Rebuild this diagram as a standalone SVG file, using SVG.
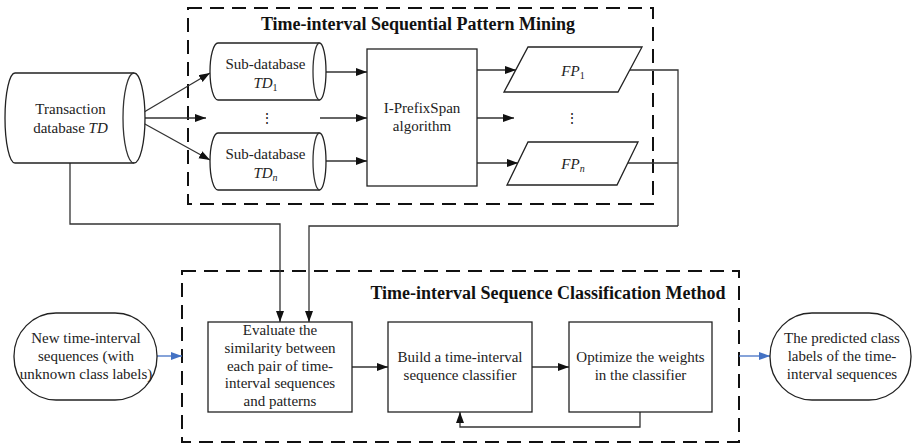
<svg xmlns="http://www.w3.org/2000/svg" width="913" height="445" viewBox="0 0 913 445">
<defs>
<marker id="ah" markerUnits="userSpaceOnUse" markerWidth="12" markerHeight="10" refX="11" refY="4" orient="auto">
<path d="M0,0 L11,4 L0,8 Z" fill="#111"/>
</marker>
<marker id="ahb" markerUnits="userSpaceOnUse" markerWidth="12" markerHeight="10" refX="11" refY="4" orient="auto">
<path d="M0,0 L11,4 L0,8 Z" fill="#4472C4"/>
</marker>
<style>
.shape{fill:#fff;stroke:#222;stroke-width:1.3}
.ln{fill:none;stroke:#333;stroke-width:1.3}
.arr{fill:none;stroke:#333;stroke-width:1.3;marker-end:url(#ah)}
.blue{fill:none;stroke:#4472C4;stroke-width:1.3;marker-end:url(#ahb)}
.dash{fill:none;stroke:#111;stroke-width:2;stroke-dasharray:14 8}
text{font-family:"Liberation Serif","Times New Roman",serif;font-size:15px;fill:#222;text-anchor:middle}
.title{font-size:18px;font-weight:bold;fill:#111}
.it{font-style:italic}
.dots{font-family:"DejaVu Serif","Liberation Serif",serif;font-size:14px}
</style>
</defs>

<g id="frame-mining">
<rect class="dash" x="188" y="8" width="465" height="196"/>
<text class="title" x="418" y="30">Time-interval Sequential Pattern Mining</text>
</g>
<g id="frame-classification">
<rect class="dash" x="182" y="271" width="557" height="171"/>
<text class="title" x="548" y="299">Time-interval Sequence Classification Method</text>
</g>

<g id="connectors">
<line class="arr" x1="134" y1="118" x2="210" y2="73"/>
<line class="arr" x1="134" y1="118" x2="206" y2="118"/>
<line class="arr" x1="134" y1="118" x2="210" y2="160"/>
<line class="arr" x1="319" y1="72" x2="367" y2="72"/>
<line class="arr" x1="320" y1="118" x2="367" y2="118"/>
<line class="arr" x1="319" y1="161" x2="367" y2="161"/>
<line class="arr" x1="477" y1="70" x2="516" y2="70"/>
<line class="arr" x1="477" y1="118" x2="514" y2="118"/>
<line class="arr" x1="477" y1="163" x2="518" y2="163"/>
<polyline class="ln" points="630,70 678,70 678,226"/>
<polyline class="ln" points="628,163 678,163"/>
<polyline class="arr" points="678,226 309,226 309,322"/>
<polyline class="arr" points="70,163 70,224 280,224 280,322"/>
<line class="arr" x1="352" y1="367" x2="388" y2="367"/>
<line class="arr" x1="532" y1="367" x2="569" y2="367"/>
<polyline class="arr" points="640,412 640,427 460,427 460,412"/>
<line class="blue" x1="157" y1="356" x2="182" y2="356"/>
<line class="blue" x1="739" y1="356" x2="770" y2="356"/>
</g>

<g id="transaction-db">
<path class="shape" d="M15,73 H134 A11,45 0 0 1 134,163 H15 A10,45 0 0 1 15,73 Z"/>
<path class="ln" d="M134,73 A11,45 0 0 0 134,163"/>
<text x="70.5" y="113.5">Transaction</text>
<text x="70.5" y="132.5">database <tspan class="it">TD</tspan></text>
</g>

<g id="sub-db-1">
<path class="shape" d="M218,43 H319.5 A6.5,28.5 0 0 1 319.5,100 H218 A8,28.5 0 0 1 218,43 Z"/>
<path class="ln" d="M319.5,43 A6.5,28.5 0 0 0 319.5,100"/>
<text x="265.5" y="68.5">Sub-database</text>
<text x="265.5" y="87.5" class="it">TD<tspan font-style="normal" font-size="10" dy="3">1</tspan></text>
</g>
<g id="sub-db-dots">
<text class="dots" x="267" y="123">⋮</text>
</g>
<g id="sub-db-n">
<path class="shape" d="M218,133 H319.5 A6.5,28.5 0 0 1 319.5,190 H218 A8,28.5 0 0 1 218,133 Z"/>
<path class="ln" d="M319.5,133 A6.5,28.5 0 0 0 319.5,190"/>
<text x="265.5" y="158.5">Sub-database</text>
<text x="265.5" y="177.5" class="it">TD<tspan font-size="10" dy="3">n</tspan></text>
</g>

<g id="iprefixspan">
<rect class="shape" x="367" y="49" width="110" height="137"/>
<text x="422" y="113">I-PrefixSpan</text>
<text x="422" y="131">algorithm</text>
</g>

<g id="fp-1">
<polygon class="shape" points="528,47 642,47 618,92 504,92"/>
<text x="573" y="76" class="it">FP<tspan font-style="normal" font-size="10" dy="3">1</tspan></text>
</g>
<g id="fp-dots">
<text class="dots" x="572" y="123">⋮</text>
</g>
<g id="fp-n">
<polygon class="shape" points="528,142 638,142 617,185 507,185"/>
<text x="573" y="169" class="it">FP<tspan font-size="10" dy="3">n</tspan></text>
</g>

<g id="new-sequences">
<rect class="shape" x="14" y="313" width="143" height="87" rx="42" ry="43"/>
<text x="86" y="342.5">New time-interval</text>
<text x="86" y="360.5">sequences (with</text>
<text x="86" y="378.5">unknown class labels)</text>
</g>

<g id="evaluate">
<rect class="shape" x="208" y="322" width="144" height="90"/>
<text x="280" y="335">Evaluate the</text>
<text x="280" y="352.8">similarity between</text>
<text x="280" y="370.6">each pair of time-</text>
<text x="280" y="388.4">interval sequences</text>
<text x="280" y="406.2">and patterns</text>
</g>

<g id="build">
<rect class="shape" x="388" y="322" width="144" height="90"/>
<text x="460" y="361.5">Build a time-interval</text>
<text x="460" y="379.5">sequence classifier</text>
</g>

<g id="optimize">
<rect class="shape" x="569" y="322" width="143" height="90"/>
<text x="640.5" y="361.5">Optimize the weights</text>
<text x="640.5" y="379.5">in the classifier</text>
</g>

<g id="predicted">
<rect class="shape" x="770" y="313" width="141" height="87" rx="42" ry="43"/>
<text x="842" y="342.5">The predicted class</text>
<text x="842" y="361">labels of the time-</text>
<text x="842" y="378.5">interval sequences</text>
</g>
</svg>
